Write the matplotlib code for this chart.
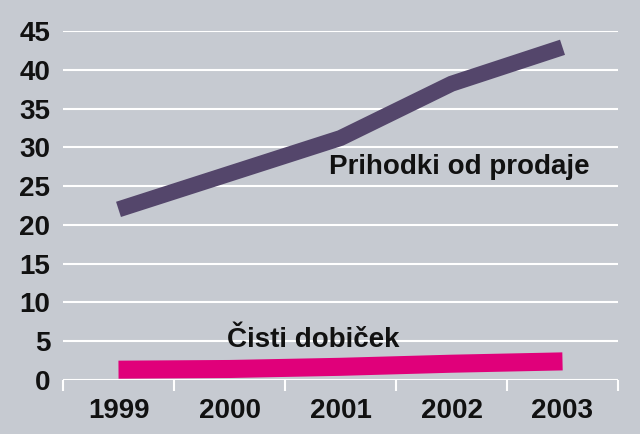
import matplotlib
matplotlib.use("Agg")
import matplotlib.pyplot as plt
import numpy as np

years = ["1999", "2000", "2001", "2002", "2003"]
prihodki = [22.0, 26.6, 31.2, 38.2, 42.9]
dobicek = [1.33, 1.42, 1.7, 2.1, 2.4]
yticks = [0, 5, 10, 15, 20, 25, 30, 35, 40, 45]

plt.rcParams['font.family'] = ['Liberation Sans', 'DejaVu Sans']
plt.rcParams['font.weight'] = 'bold'

bg = "#c6cad1"
fig = plt.figure(figsize=(6.4, 4.34), dpi=100, facecolor=bg)
ax = fig.add_axes([63/640, (434-380)/434, (618-63)/640, (380-31)/434])
ax.set_facecolor(bg)

x = np.arange(len(years))
ax.set_xlim(-0.5, len(years) - 0.5)
ax.set_ylim(0, 45)
ax.set_yticks(yticks)
ax.set_yticklabels([str(v) for v in yticks])
ax.yaxis.grid(True, color="white", linewidth=1.5)
ax.set_axisbelow(True)
for s in ax.spines.values():
    s.set_visible(False)
ax.set_xticks(x)
ax.set_xticklabels(years)
ax.set_xticks(np.arange(len(years) + 1) - 0.5, minor=True)
ax.tick_params(axis='x', which='major', length=0, pad=13, labelsize=20, labelcolor="#111111")
ax.tick_params(axis='x', which='minor', length=8, width=1.5, color="white", direction="out")
ax.tick_params(axis='y', length=0, pad=9, labelsize=20, labelcolor="#111111")
for lab in ax.get_xticklabels() + ax.get_yticklabels():
    lab.set_fontweight('bold')

ax.plot(x, prihodki, color="#54466b", linewidth=11.5, solid_capstyle='butt', solid_joinstyle='miter', clip_on=False)
ax.plot(x, dobicek, color="#e0007a", linewidth=13, solid_capstyle='butt', solid_joinstyle='miter', clip_on=False)

ax.text(1.90, 27.5, "Prihodki od prodaje", fontsize=20, fontweight='bold', color="#111111", va='center', ha='left')
ax.text(0.98, 5.2, "Čisti dobiček", fontsize=20, fontweight='bold', color="#111111", va='center', ha='left')

fig.savefig("out.png", dpi=100, facecolor=bg)
